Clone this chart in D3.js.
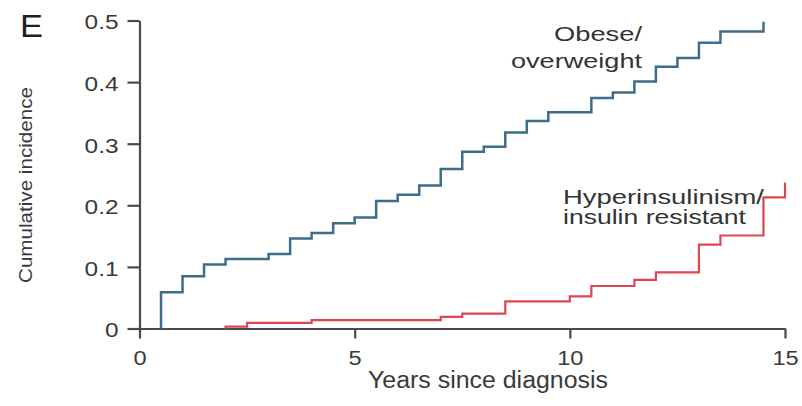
<!DOCTYPE html>
<html>
<head>
<meta charset="utf-8">
<script src="https://cdn.jsdelivr.net/npm/d3@7"></script>
<style>
  html, body { margin: 0; padding: 0; background: #fff; }
  svg { display: block; font-family: "Liberation Sans", Arial, Helvetica, sans-serif; }
</style>
</head>
<body>
<svg id="chart" width="802" height="406"></svg>
<script>
// Cumulative incidence by years since diagnosis (step curves)
const xTicks = [0, 5, 10, 15];
const yTicks = [0, 0.1, 0.2, 0.3, 0.4, 0.5];
const yTickLabels = ["0", "0.1", "0.2", "0.3", "0.4", "0.5"];

// Obese/overweight group: event times (years) and cumulative incidence after each step
const obeseStart = 0.5;
const obeseTimes = [0.5, 1.0, 1.5, 2.0, 3.0, 3.5, 4.0, 4.5, 5.0, 5.5, 6.0, 6.5, 7.0,
                    7.5, 8.0, 8.5, 9.0, 9.5, 10.5, 11.0, 11.5, 12.0, 12.5, 13.0, 13.5, 14.5];
const obeseValues = [0.059, 0.085, 0.104, 0.113, 0.121, 0.146, 0.155, 0.171, 0.180, 0.207,
                     0.217, 0.232, 0.259, 0.287, 0.295, 0.318, 0.337, 0.351, 0.374, 0.383,
                     0.401, 0.425, 0.439, 0.464, 0.482, 0.498];

// Hyperinsulinism/insulin resistant group
const hyperStart = 2.0;
const hyperTimes = [2.0, 2.5, 4.0, 7.0, 7.5, 8.5, 10.0, 10.5, 11.5, 12.0, 13.0, 13.5, 14.5, 15.0];
const hyperValues = [0.003, 0.009, 0.0135, 0.019, 0.024, 0.044, 0.052, 0.069, 0.079, 0.091,
                     0.136, 0.151, 0.213, 0.237];

const svg = d3.select("#chart");

const x = d3.scaleLinear().domain([0, 15]).range([139.5, 785]);
const y = d3.scaleLinear().domain([0, 0.5]).range([328.5, 20.5]);

const axisColor = "#4a4a4a";
const textColor = "#3a3a3a";

// widen glyphs horizontally by factor k (the figure's lettering is broad)
function widen(sel, k) {
  sel.each(function () {
    const len = this.getComputedTextLength();
    d3.select(this).attr("textLength", len * k).attr("lengthAdjust", "spacingAndGlyphs");
  });
}

// Y axis
const gy = svg.append("g")
  .attr("transform", `translate(${x(0)},0)`)
  .call(d3.axisLeft(y).tickValues(yTicks).tickFormat((d, i) => yTickLabels[i])
    .tickSize(12).tickSizeOuter(0).tickPadding(9));
gy.select(".domain").attr("stroke", axisColor).attr("stroke-width", 2.2);
gy.selectAll(".tick line").attr("stroke", axisColor).attr("stroke-width", 2.2);
gy.selectAll(".tick text")
  .attr("fill", textColor).attr("font-size", 20).attr("dy", "0.42em")
  .call(widen, 1.22);

// X axis
const gx = svg.append("g")
  .attr("transform", `translate(0,${y(0)})`)
  .call(d3.axisBottom(x).tickValues(xTicks).tickFormat(d3.format("d"))
    .tickSize(10).tickSizeOuter(0).tickPadding(12));
gx.select(".domain").attr("stroke", axisColor).attr("stroke-width", 2.2);
gx.selectAll(".tick line").attr("stroke", axisColor).attr("stroke-width", 2.2);
gx.selectAll(".tick text")
  .attr("fill", textColor).attr("font-size", 20)
  .call(widen, 1.18);

// Step curves
const line = d3.line().x(d => x(d[0])).y(d => y(d[1])).curve(d3.curveStepAfter);

function steps(start, times, values) {
  return [[start, 0]].concat(times.map((t, i) => [t, values[i]]));
}

svg.append("path")
  .datum(steps(hyperStart, hyperTimes, hyperValues))
  .attr("d", line)
  .attr("fill", "none")
  .attr("stroke", "#de4650")
  .attr("stroke-width", 2.2);

svg.append("path")
  .datum(steps(obeseStart, obeseTimes, obeseValues))
  .attr("d", line)
  .attr("fill", "none")
  .attr("stroke", "#3f6c88")
  .attr("stroke-width", 2.5);

// Series labels
const obeseLabel = svg.append("g").attr("fill", "#333").attr("font-size", 20).attr("text-anchor", "end");
obeseLabel.append("text").attr("x", 642).attr("y", 40.5).attr("textLength", 88)
  .attr("lengthAdjust", "spacingAndGlyphs").text("Obese/");
obeseLabel.append("text").attr("x", 642).attr("y", 67.5).attr("textLength", 131)
  .attr("lengthAdjust", "spacingAndGlyphs").text("overweight");

const hyperLabel = svg.append("g").attr("fill", "#333").attr("font-size", 20).attr("text-anchor", "start");
hyperLabel.append("text").attr("x", 563).attr("y", 203.5).attr("textLength", 201)
  .attr("lengthAdjust", "spacingAndGlyphs").text("Hyperinsulinism/");
hyperLabel.append("text").attr("x", 563).attr("y", 223.5).attr("textLength", 183)
  .attr("lengthAdjust", "spacingAndGlyphs").text("insulin resistant");

// Axis titles
svg.append("text")
  .attr("x", 488).attr("y", 388)
  .attr("text-anchor", "middle").attr("fill", textColor).attr("font-size", 23)
  .attr("textLength", 240).attr("lengthAdjust", "spacingAndGlyphs")
  .text("Years since diagnosis");

svg.append("text")
  .attr("transform", "translate(32,185) rotate(-90)")
  .attr("text-anchor", "middle").attr("fill", textColor).attr("font-size", 19)
  .attr("textLength", 196).attr("lengthAdjust", "spacingAndGlyphs")
  .text("Cumulative incidence");

// Panel letter
svg.append("text")
  .attr("x", 20).attr("y", 36.5)
  .attr("fill", "#1e1e1e").attr("font-size", 31)
  .attr("textLength", 23).attr("lengthAdjust", "spacingAndGlyphs")
  .text("E");
</script>
</body>
</html>
